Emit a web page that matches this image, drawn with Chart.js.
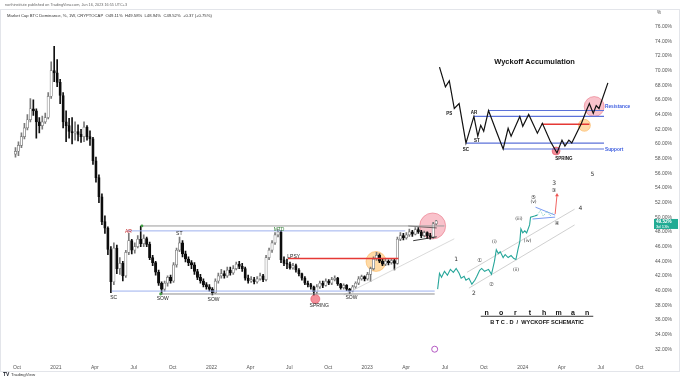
<!DOCTYPE html>
<html><head><meta charset="utf-8">
<script src="https://cdn.jsdelivr.net/npm/chart.js@4.4.0/dist/chart.umd.min.js"></script>
<style>html,body{margin:0;padding:0;background:#fff;}#wrap{width:680px;height:378px;position:relative;}</style>
</head><body><div id="wrap"><canvas id="c" width="680" height="378"></canvas></div>
<script>
// ================= DATA =================
const firstWeekStart = '2020-09-28';
const firstOpen = 58.6;
const closes = [59.0,59.8,61.0,62.2,63.3,64.8,64.5,63.0,62.5,63.0,
 63.6,66.5,70.0,69.7,68.4,66.6,63.0,62.5,61.7,61.5,
 61.7,61.3,61.0,62.3,61.0,60.7,57.7,55.4,52.8,49.4,
 48.5,45.6,41.2,45.8,43.0,43.7,42.0,45.2,46.8,45.5,
 46.0,47.0,46.4,47.1,46.3,44.5,43.8,42.5,41.0,40.2,
 41.0,41.8,41.3,43.5,45.5,46.5,45.0,44.3,43.8,43.5,
 42.6,41.8,41.3,40.8,40.5,40.2,39.7,41.3,42.0,42.3,
 42.0,42.8,42.4,43.0,43.6,43.3,43.0,41.7,41.3,41.5,
 41.2,41.6,42.0,41.5,44.5,45.5,46.5,47.6,48.0,44.2,
 43.7,43.6,43.1,43.4,42.8,42.3,41.7,41.0,40.8,40.5,
 39.8,40.5,41.0,40.7,41.3,41.0,41.5,41.7,40.9,40.4,
 40.7,40.2,39.9,40.5,41.0,41.6,41.9,41.6,42.2,43.0,
 44.3,44.8,44.0,43.6,44.0,43.8,44.1,43.7,47.0,47.5,
 47.2,47.6,48.0,47.7,48.3,48.0,47.5,47.9,47.5,47.3,
 49.11,49.52];
const highs = [59.5,60.3,61.5,62.8,64.0,66.2,66.0,64.8,63.6,63.8,
 64.2,67.0,71.2,73.3,71.5,68.8,67.0,64.5,63.5,63.6,
 63.0,62.6,62.0,63.0,62.5,61.8,60.9,58.2,55.8,53.2,
 50.2,48.7,46.0,46.5,46.2,44.5,44.0,45.5,47.8,47.0,
 46.5,47.5,48.8,47.6,47.3,46.6,44.8,44.0,42.8,41.2,
 41.3,42.0,42.1,43.8,45.8,47.3,46.8,45.4,44.6,44.1,
 43.8,42.9,42.2,41.6,41.1,40.8,40.4,41.6,42.4,42.9,
 42.7,43.2,43.2,43.4,43.9,44.0,43.7,43.2,42.1,41.9,
 41.8,41.9,42.4,42.2,44.8,45.8,46.8,47.9,48.3,48.2,
 44.6,44.3,43.9,43.7,43.6,43.0,42.4,41.9,41.3,41.0,
 40.6,40.8,41.3,41.3,41.6,41.5,41.8,42.0,41.8,41.0,
 40.9,40.8,40.3,40.7,41.2,41.9,42.1,42.0,42.5,43.2,
 44.6,45.2,45.0,44.3,44.3,44.2,44.4,44.3,47.3,47.9,
 47.8,47.9,48.4,48.2,48.6,48.6,48.2,48.1,48.0,47.8,
 49.3,49.58];
const lows = [58.2,58.4,59.5,60.7,61.9,63.0,63.9,60.8,61.5,62.0,
 62.8,63.4,66.2,68.5,67.8,65.5,62.2,60.3,60.8,60.0,
 60.5,60.4,60.2,60.3,60.5,59.8,57.2,54.8,52.0,49.0,
 47.8,44.9,39.7,40.8,42.3,42.2,41.3,41.8,44.9,45.0,
 45.1,45.8,46.0,46.0,46.0,44.2,43.4,42.1,40.7,39.5,
 39.9,40.6,41.0,41.1,43.2,45.3,44.6,43.9,43.4,43.0,
 42.2,41.5,41.0,40.5,40.2,39.9,39.4,39.6,41.0,41.7,
 41.7,41.8,42.1,42.2,42.8,43.0,42.6,41.4,41.0,41.1,
 40.9,41.0,41.4,41.2,41.3,44.2,45.2,46.3,47.3,43.8,
 43.4,43.0,42.9,42.9,42.5,42.0,41.4,40.8,40.5,40.2,
 39.4,39.6,40.3,40.4,40.6,40.8,40.8,41.3,40.7,40.2,
 40.2,40.0,39.6,39.8,40.3,40.8,41.4,41.3,41.4,41.2,
 42.8,44.1,43.8,43.4,43.4,43.5,43.6,42.8,43.6,46.8,
 46.9,47.0,47.4,47.4,47.6,47.8,47.2,47.3,47.1,47.0,
 47.1,48.94];

const yTickValues = [32,34,36,38,40,42,44,46,48,50,52,54,56,58,60,62,64,66,68,70,72,74,76];
const xTickPositions = [2020.75,2021,2021.25,2021.5,2021.75,2022,2022.25,2022.5,2022.75,2023,2023.25,2023.5,2023.75,2024,2024.25,2024.5,2024.75];
const xTickLabels = ['Oct','2021','Apr','Jul','Oct','2022','Apr','Jul','Oct','2023','Apr','Jul','Oct','2024','Apr','Jul','Oct'];

// Wyckoff annotations on the main chart (decimal year, %)
const rangeTopGray = [[2021.553,48.81],[2023.497,48.81]];
const rangeTopBlue = [[2021.459,48.14],[2023.245,48.14]];
const supportBlue = [[2021.359,39.93],[2023.434,39.93]];
const supportGray = [[2021.673,39.53],[2023.434,39.53]];
const lpsyLevel = [[2022.491,44.37],[2023.201,44.37]];
const risingTrend = [[2022.849,39.39],[2023.560,47.06]];
const wedgeTop = [[2023.264,48.81],[2023.447,48.54]];
const wedgeBottom = [[2023.296,46.80],[2023.447,47.33]];
const anchorDots = [[2021.553,48.81],[2021.673,39.53]];
const orangeZone = [[2023.057,43.97]];
const springZone = [[2022.667,38.85]];
const breakoutZone = [[2023.421,48.81]];
const eventMarker = [[2023.434,32.0]];
const mainLabels = ['AR','ST','MTD','SC','SOW','SOW','LPSY','SPRING','SOW'];
const mainLabelX = [2021.466,2021.793,2022.434,2021.371,2021.686,2022.013,2022.528,2022.692,2022.899];
const mainLabelY = [48.0,47.74,48.27,38.99,38.85,38.72,44.64,37.91,38.99];

// Wyckoff accumulation schematic (inset)
const schematicPath = [[2023.465,70.48],[2023.503,67.79],[2023.528,68.60],[2023.560,64.83],[2023.591,65.50],[2023.635,60.12],[2023.686,63.75],[2023.711,61.06],[2023.730,62.54],[2023.749,61.73],[2023.780,64.56],[2023.830,61.73],[2023.874,59.31],[2023.906,62.14],[2023.925,61.06],[2023.981,63.75],[2024.000,62.41],[2024.038,64.02],[2024.094,61.46],[2024.126,62.81],[2024.176,60.39],[2024.220,58.77],[2024.252,60.52],[2024.271,59.71],[2024.296,60.52],[2024.315,60.12],[2024.377,62.81],[2024.409,64.56],[2024.428,65.50],[2024.453,64.16],[2024.472,65.23],[2024.490,64.83],[2024.547,68.33]];
const schematicResTop = [[2023.780,64.56],[2024.522,64.56]];
const schematicRes = [[2023.686,63.75],[2024.522,63.75]];
const schematicSup = [[2023.635,60.12],[2024.522,60.12]];
const schematicSupLow = [[2023.874,59.31],[2024.522,59.31]];
const schematicRed = [[2024.120,62.68],[2024.428,62.68]];
const schematicPink = [[2024.459,65.10]];
const schematicOrange = [[2024.396,62.54]];
const schematicSpring = [[2024.214,59.04]];
const schematicLabels = ['PS','AR','ST','SC','SPRING'];
const schematicLabelX = [2023.528,2023.686,2023.705,2023.635,2024.264];
const schematicLabelY = [64.16,64.29,60.39,59.18,57.96];
const schematicSideLabels = ['Resistance','Support'];
const schematicSideX = [2024.528,2024.528];
const schematicSideY = [65.10,59.18];
const schematicTitle = ['Wyckoff Accumulation', 2024.076, 71.15];

// Elliott wave projection
const wavePath = [[2023.453,40.20],[2023.465,42.35],[2023.478,41.81],[2023.497,42.62],[2023.516,42.08],[2023.535,42.89],[2023.554,42.49],[2023.572,43.02],[2023.591,42.35],[2023.604,41.68],[2023.623,41.95],[2023.635,41.41],[2023.654,41.68],[2023.673,40.87],[2023.692,41.41],[2023.705,41.95],[2023.723,42.76],[2023.736,43.02],[2023.755,42.62],[2023.780,42.89],[2023.799,42.22],[2023.818,43.97],[2023.830,45.58],[2023.843,45.04],[2023.855,45.31],[2023.874,44.50],[2023.887,44.91],[2023.906,44.50],[2023.925,44.77],[2023.943,44.37],[2023.956,44.23],[2023.969,45.58],[2023.981,46.66],[2023.988,48.41],[2024.000,47.87],[2024.013,48.14],[2024.025,47.87],[2024.044,48.95],[2024.050,50.02],[2024.076,50.16],[2024.094,50.29]];
const waveTriangleLeg = [[2024.094,50.29],[2024.113,50.96],[2024.132,50.16],[2024.157,50.83],[2024.176,50.16],[2024.195,50.70]];
const triangleUpper = [[2024.082,51.37],[2024.208,50.29]];
const triangleLower = [[2024.063,49.76],[2024.208,50.02]];
const breakoutArrow = [[2024.208,50.43],[2024.220,53.0]];
const channelUpper = [[2023.642,42.49],[2024.333,51.10]];
const channelLower = [[2023.654,40.33],[2024.333,48.95]];
const waveLabels = ['1','2','①','②','(i)','(ii)','(iii)','(iv)','(v)','⑤','3','③','4','5','④'];
const waveLabelX = [2023.572,2023.686,2023.723,2023.799,2023.818,2023.956,2023.975,2024.031,2024.069,2024.069,2024.201,2024.201,2024.371,2024.447,2024.220];
const waveLabelY = [44.23,39.66,44.10,40.87,46.66,42.89,49.76,46.80,52.04,52.75,54.60,53.66,51.24,55.81,49.08];

const signature = ['northman', 'B T C . D  /  WYCKOFF SCHEMATIC'];
const signatureSpan = [2023.730, 2024.453, 36.97, 35.62, 36.56];

const headerLine = 'northinstitute published on TradingView.com, Jun 16, 2023 16:55 UTC+3';
const legendLine = 'Market Cap BTC Dominance, %, 1W, CRYPTOCAP  O49.11%  H49.58%  L48.94%  C49.52%  +0.37 (+0.75%)';
const countdown = '3d 13h';

// ================= BUILD =================
function decYear(d){
  const y = d.getUTCFullYear();
  const s = Date.UTC(y,0,1), e = Date.UTC(y+1,0,1);
  return y + (d.getTime()-s)/(e-s);
}
const t0 = new Date(firstWeekStart+'T00:00:00Z');
const wicks = [], bodies = [], upFlags = [];
closes.forEach((c,i)=>{
  const d = new Date(t0.getTime() + i*7*86400000);
  const t = decYear(d);
  const o = i===0 ? firstOpen : closes[i-1];
  wicks.push({x:t, y:[lows[i], highs[i]]});
  bodies.push({x:t, y:[o, c]});
  upFlags.push(c >= o);
});
const pts = a => a.map(p=>({x:p[0], y:p[1]}));
function line(data, color, width, extra){
  return Object.assign({type:'line', data:pts(data), borderColor:color, borderWidth:width,
    pointRadius:0, fill:false, tension:0, order:3}, extra||{});
}
function bubble(data, r, fillC, borderC, order){
  return {type:'bubble', data:data.map(p=>({x:p[0], y:p[1], r:r})), backgroundColor:fillC,
    borderColor:borderC, borderWidth:0.8, order:order};
}

const datasets = [
  bubble(breakoutZone, 13, 'rgba(242,120,140,0.45)', 'rgba(225,80,100,0.55)', 30),
  bubble(orangeZone, 10, 'rgba(255,190,95,0.55)', 'rgba(250,165,60,0.6)', 30),
  bubble(springZone, 4.5, 'rgba(240,95,110,0.7)', 'rgba(225,70,90,0.7)', 30),
  bubble(schematicPink, 10, 'rgba(242,120,140,0.45)', 'rgba(225,80,100,0.55)', 30),
  bubble(schematicOrange, 6, 'rgba(255,190,95,0.55)', 'rgba(250,165,60,0.6)', 30),
  bubble(schematicSpring, 4, 'rgba(240,95,110,0.7)', 'rgba(225,70,90,0.7)', 30),
  line(rangeTopGray, '#9a9a9a', 1),
  line(rangeTopBlue, '#9db0ee', 1),
  line(supportBlue, '#9db0ee', 1),
  line(supportGray, '#8c8c8c', 1),
  line(lpsyLevel, '#e53935', 1.6),
  line(risingTrend, '#d0d0d0', 0.8),
  line(wedgeTop, '#444', 0.8),
  line(wedgeBottom, '#222', 0.9),
  {type:'scatter', data:pts(anchorDots), pointRadius:1.4, backgroundColor:'#43a047', borderWidth:0, order:2},
  {type:'scatter', data:pts(eventMarker), pointRadius:3, backgroundColor:'#ffffff', borderColor:'#ab47bc', borderWidth:0.9, order:2},
  line(schematicResTop, '#5c72d9', 1.2),
  line(schematicRes, '#5c72d9', 1.2),
  line(schematicSup, '#5c72d9', 1.2),
  line(schematicSupLow, '#5c72d9', 1.2),
  line(schematicRed, '#e53935', 1.5),
  line(schematicPath, '#111', 1.2, {order:2}),
  line(channelUpper, '#c4c4c4', 0.8),
  line(channelLower, '#c4c4c4', 0.8),
  line(wavePath, '#26a69a', 1.1, {order:2}),
  line(waveTriangleLeg, '#7fcfc4', 0.8, {borderDash:[1.5,1.2], order:2}),
  line(triangleUpper, '#6a8ff0', 0.9),
  line(triangleLower, '#6a8ff0', 0.9),
  line(breakoutArrow, '#ef5350', 0.9, {pointRadius:[0,2.2], pointStyle:'triangle', pointBackgroundColor:'#ef5350', pointBorderWidth:0}),
  {type:'bar', data:wicks, grouped:false, barThickness:1, backgroundColor:upFlags.map(u=>u?'#7a7a7a':'#111'), borderWidth:0, order:6},
  {type:'bar', data:bodies, grouped:false, barThickness:2.4, minBarLength:1,
    backgroundColor:upFlags.map(u=>u?'#ffffff':'#0d0d0d'), borderColor:upFlags.map(u=>u?'#7a7a7a':'#0d0d0d'),
    borderWidth:0.7, borderSkipped:false, order:5}
];

const FONT = "'Liberation Sans', Arial, sans-serif";
const mainLabelColors = ['#c62828','#222','#2e7d32','#222','#222','#222','#222','#222','#222'];

const overlay = {
  id:'overlay',
  beforeDraw(chart){
    const c = chart.ctx; c.save(); c.fillStyle='#fff'; c.fillRect(0,0,chart.width,chart.height); c.restore();
  },
  afterDatasetsDraw(chart){
    const c = chart.ctx, xs = chart.scales.x, ys = chart.scales.y;
    const P = (x,y)=>[xs.getPixelForValue(x), ys.getPixelForValue(y)];
    const txt = (s,x,y,font,color,align)=>{
      const [px,py] = P(x,y);
      c.font = font; c.fillStyle = color; c.textAlign = align||'center'; c.textBaseline='middle';
      c.fillText(s, px, py);
    };
    c.save();
    mainLabels.forEach((s,k)=>txt(s, mainLabelX[k], mainLabelY[k], '5px '+FONT, mainLabelColors[k]));
    schematicLabels.forEach((s,k)=>txt(s, schematicLabelX[k], schematicLabelY[k], 'bold 4.5px '+FONT, '#111'));
    schematicSideLabels.forEach((s,k)=>txt(s, schematicSideX[k], schematicSideY[k], 'bold 4.8px '+FONT, '#3f5fe0', 'left'));
    txt(schematicTitle[0], schematicTitle[1], schematicTitle[2], 'bold 7.5px '+FONT, '#111');
    waveLabels.forEach((s,k)=>{
      const big = /^[1-5]$/.test(s);
      const circ = /[①-⑤]/.test(s);
      txt(s, waveLabelX[k], waveLabelY[k], (big?'6px ':(circ?'5.5px ':'4.5px '))+"'DejaVu Sans', "+FONT, '#333');
    });
    // signature
    const [sx0, sy0] = P(signatureSpan[0], signatureSpan[2]);
    const [sx1] = P(signatureSpan[1], signatureSpan[2]);
    const letters = signature[0].split('');
    c.font = 'bold 7px '+FONT; c.fillStyle = '#111'; c.textAlign='center'; c.textBaseline='middle';
    const step = (sx1 - sx0 - 12) / (letters.length - 1);
    letters.forEach((ch,k)=>c.fillText(ch, sx0 + 6 + k*step, sy0));
    const [, uy] = P(signatureSpan[0], signatureSpan[4]);
    c.strokeStyle = '#222'; c.lineWidth = 0.9;
    c.beginPath(); c.moveTo(sx0, uy+0.5); c.lineTo(sx1, uy+0.5); c.stroke();
    const [, by] = P(signatureSpan[0], signatureSpan[3]);
    c.font = 'bold 5.6px '+FONT; c.fillText(signature[1], (sx0+sx1)/2, by);
    c.restore();
  },
  afterDraw(chart){
    const c = chart.ctx, ys = chart.scales.y;
    c.save();
    c.strokeStyle = '#e3e5ea'; c.lineWidth = 1;
    c.strokeRect(0.5, 9.5, chart.width-1, 362);
    c.textAlign='left'; c.textBaseline='middle';
    c.font = '3.8px '+FONT; c.fillStyle = '#666'; c.fillText(headerLine, 5, 5);
    c.font = '4.2px '+FONT; c.fillStyle = '#333'; c.fillText(legendLine, 7, 15.5);
    c.font = '4.6px '+FONT; c.fillStyle = '#555'; c.fillText('%', 657, 13);
    const last = closes[closes.length-1];
    const py = ys.getPixelForValue(last);
    c.fillStyle = '#22ab94';
    c.fillRect(654, py-1.8, 24, 10);
    c.fillStyle = '#fff'; c.font = 'bold 4.6px '+FONT; c.textAlign='left';
    c.fillText(last.toFixed(2)+'%', 656, py+1.2);
    c.font = '4.2px '+FONT; c.fillText(countdown, 656, py+5.6);
    c.fillStyle = '#131722'; c.font = 'bold 5px '+FONT; c.fillText('TV', 3, 374.5);
    c.font = '4.4px '+FONT; c.fillStyle = '#333'; c.fillText('TradingView', 11, 374.5);
    c.restore();
  }
};

new Chart(document.getElementById('c'), {
  type:'bar',
  data:{datasets},
  options:{
    responsive:false, animation:false, devicePixelRatio:1,
    events:[],
    layout:{padding:{top:9, left:0, right:0, bottom:8}},
    plugins:{legend:{display:false}, tooltip:{enabled:false}},
    scales:{
      x:{type:'linear', min:2020.7296, max:2024.8176, offset:false,
        grid:{display:false, drawTicks:false}, border:{display:false},
        afterBuildTicks:s=>{ s.ticks = xTickPositions.map(v=>({value:v})); },
        afterFit:s=>{ s.height = 12; },
        ticks:{autoSkip:false, maxRotation:0, padding:7, color:'#555', font:{size:5, family:FONT},
          callback:(v,i)=>xTickLabels[i]}
      },
      y:{type:'linear', position:'right', min:30.8, max:77.75,
        grid:{display:false, drawTicks:false}, border:{display:false},
        afterBuildTicks:s=>{ s.ticks = yTickValues.map(v=>({value:v})); },
        afterFit:s=>{ s.width = 30; },
        ticks:{padding:5, color:'#555', font:{size:5, family:FONT}, callback:v=>v.toFixed(2)+'%'}
      }
    }
  },
  plugins:[overlay]
});
</script></body></html>
